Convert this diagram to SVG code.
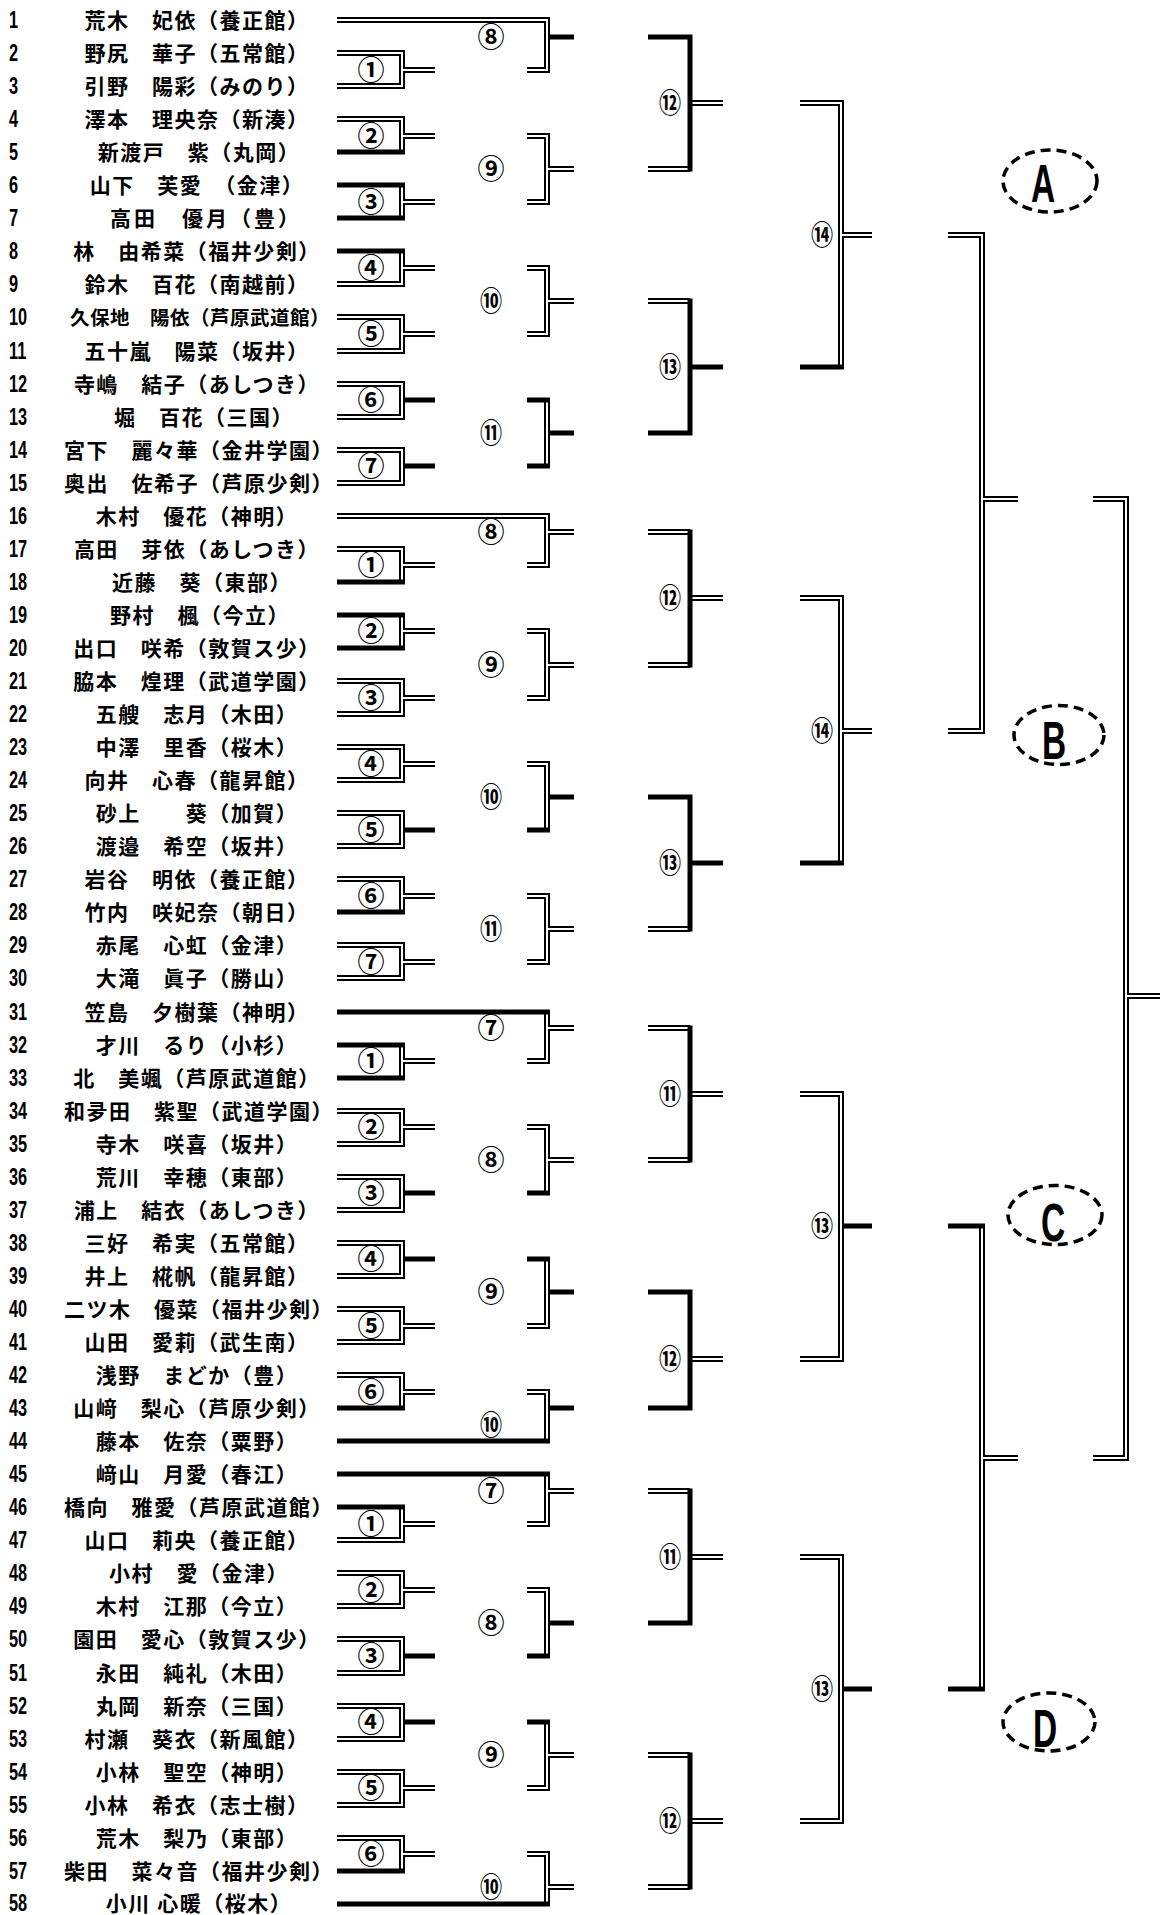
<svg xmlns="http://www.w3.org/2000/svg" width="1160" height="1915" viewBox="0 0 1160 1915">
<style>
.nm{font-family:"Noto Sans CJK JP","Noto Sans CJK SC",sans-serif;font-size:21px;font-weight:700;letter-spacing:1.5px;text-anchor:middle;fill:#000}
.no{font-family:"Liberation Sans",Arial,sans-serif;font-size:24px;font-weight:700;fill:#000;transform:scaleX(0.68)}
.lb{font-family:"Noto Sans CJK JP","Noto Sans CJK SC",sans-serif;font-size:27px;font-weight:700;text-anchor:middle;fill:#000}
.l2{transform-box:fill-box;transform-origin:center;transform:scaleX(0.82)}
.ov{fill:none;stroke:#000;stroke-width:3.5;stroke-dasharray:10 6}
.ol{font-family:"Liberation Sans",Arial,sans-serif;font-size:54px;font-weight:700;text-anchor:middle;fill:#000}
.tk{fill:none;stroke:#000;stroke-width:5}
</style>
<defs>
<path id="dbl" d="M337 53H402V86H337M402 70H435M337 119H402V152M402 136H435M402 185V218M402 202H435M402 251V284H337M402 268H435M337 317H402V351H337M402 334H435M337 384H402V417H337M337 450H402V483H337M337 20H547V70H527M527 136H547V202H527M547 169H574M527 268H547V334H527M547 301H574M547 400V466M648 169H690M690 103H723M648 301H690M800 103H841V367M841 235H872M948 235H982V731H948M982 499H1018M1093 499H1126V1458H1093M1126 996H1160
M337 549H402V582M402 565H435M402 615V648M402 631H435M337 681H402V714H337M402 698H435M337 747H402V780H337M402 764H435M337 813H402V846H337M337 879H402V912M402 896H435M337 945H402V978H337M402 962H435M337 516H547V565H527M547 532H574M527 631H547V698H527M547 665H574M527 764H547V830M527 896H547V962H527M547 929H574M648 532H690M648 665H690M690 598H723M648 929H690M800 598H841V863M841 731H872
M402 1045V1078M402 1061H435M337 1111H402V1144H337M402 1127H435M337 1177H402V1210H337M337 1243H402V1276H337M337 1309H402V1342H337M402 1326H435M337 1375H402V1408M402 1392H435M547 1012V1061H527M547 1028H574M527 1127H547V1193M547 1160H574M547 1259V1326H527M527 1392H547V1441M648 1028H690M648 1160H690M690 1094H723M690 1359H723M800 1094H841V1359H800M982 1226V1689M982 1458H1018
M402 1507V1540H337M402 1524H435M337 1573H402V1606H337M402 1590H435M337 1639H402V1673H337M337 1706H402V1739H337M337 1772H402V1805H337M402 1788H435M337 1838H402V1871M402 1854H435M547 1474V1524H527M547 1491H574M527 1590H547V1656M547 1722V1788H527M547 1755H574M527 1854H547V1904M547 1887H574M648 1491H690M690 1557H723M648 1755H690M648 1887H690M690 1821H723M800 1557H841V1821H800"/>
</defs>
<rect width="1160" height="1915" fill="#fff"/>
<g id="connectors">
<use href="#dbl" fill="none" stroke="#000" stroke-width="6"/>
<use href="#dbl" fill="none" stroke="#fff" stroke-width="2"/>
<path class="tk" d="M337 152H405M337 185H405M337 218H405M337 251H405M403 400H435M403 466H435M548 37H574M527 400H550M527 466H550M548 433H574M648 37H692.5M690 34.5V171.5M648 433H692.5M690 298.5V435.5M690 367H723M800 367H844
M337 582H405M337 615H405M337 648H405M403 830H435M337 912H405M527 830H550M548 797H574M690 529.5V667.5M648 797H692.5M690 794.5V931.5M690 863H723M800 863H844
M337 1045H405M337 1078H405M403 1193H435M403 1259H435M337 1408H405M337 1012H550M527 1193H550M527 1259H550M548 1292H574M337 1441H550M548 1408H574M690 1025.5V1162.5M648 1292H692.5M648 1408H692.5M690 1289.5V1410.5M842 1226H872M948 1226H985M948 1689H985
M337 1507H405M403 1656H435M403 1722H435M337 1871H405M337 1474H550M527 1656H550M548 1623H574M527 1722H550M337 1904H550M648 1623H692.5M690 1488.5V1625.5M690 1752.5V1889.5M842 1689H872"/>
</g>
<g id="players">
<g id="p1"><text class="no" x="13.2" y="28">1</text><text class="nm" x="197" y="28">荒木　妃依（養正館）</text></g>
<g id="p2"><text class="no" x="13.2" y="61">2</text><text class="nm" x="197" y="61">野尻　華子（五常館）</text></g>
<g id="p3"><text class="no" x="13.2" y="94">3</text><text class="nm" x="197" y="94">引野　陽彩（みのり）</text></g>
<g id="p4"><text class="no" x="13.2" y="127">4</text><text class="nm" x="197" y="127">澤本　理央奈（新湊）</text></g>
<g id="p5"><text class="no" x="13.2" y="160">5</text><text class="nm" x="199" y="160">新渡戸　紫（丸岡）</text></g>
<g id="p6"><text class="no" x="13.2" y="193">6</text><text class="nm" x="197" y="193">山下　芙愛　（金津）</text></g>
<g id="p7"><text class="no" x="13.2" y="226">7</text><text class="nm" x="206" y="226" style="letter-spacing:3px">高田　優月（豊）</text></g>
<g id="p8"><text class="no" x="13.2" y="259">8</text><text class="nm" x="197" y="259">林　由希菜（福井少剣）</text></g>
<g id="p9"><text class="no" x="13.2" y="292">9</text><text class="nm" x="197" y="292">鈴木　百花（南越前）</text></g>
<g id="p10"><text class="no" x="13.2" y="325">10</text><text class="nm" x="200" y="325" style="font-size:19.5px;letter-spacing:0.5px">久保地　陽依（芦原武道館）</text></g>
<g id="p11"><text class="no" x="13.2" y="359">11</text><text class="nm" x="197" y="359">五十嵐　陽菜（坂井）</text></g>
<g id="p12"><text class="no" x="13.2" y="392">12</text><text class="nm" x="197" y="392">寺嶋　結子（あしつき）</text></g>
<g id="p13"><text class="no" x="13.2" y="425">13</text><text class="nm" x="204" y="425">堀　百花（三国）</text></g>
<g id="p14"><text class="no" x="13.2" y="458">14</text><text class="nm" x="199" y="458">宮下　麗々華（金井学園）</text></g>
<g id="p15"><text class="no" x="13.2" y="491">15</text><text class="nm" x="199" y="491">奥出　佐希子（芦原少剣）</text></g>
<g id="p16"><text class="no" x="13.2" y="524">16</text><text class="nm" x="197" y="524">木村　優花（神明）</text></g>
<g id="p17"><text class="no" x="13.2" y="557">17</text><text class="nm" x="197" y="557">高田　芽依（あしつき）</text></g>
<g id="p18"><text class="no" x="13.2" y="590">18</text><text class="nm" x="202" y="590">近藤　葵（東部）</text></g>
<g id="p19"><text class="no" x="13.2" y="623">19</text><text class="nm" x="200" y="623">野村　楓（今立）</text></g>
<g id="p20"><text class="no" x="13.2" y="656">20</text><text class="nm" x="197" y="656">出口　咲希（敦賀ス少）</text></g>
<g id="p21"><text class="no" x="13.2" y="689">21</text><text class="nm" x="197" y="689">脇本　煌理（武道学園）</text></g>
<g id="p22"><text class="no" x="13.2" y="722">22</text><text class="nm" x="197" y="722">五艘　志月（木田）</text></g>
<g id="p23"><text class="no" x="13.2" y="755">23</text><text class="nm" x="197" y="755">中澤　里香（桜木）</text></g>
<g id="p24"><text class="no" x="13.2" y="788">24</text><text class="nm" x="197" y="788">向井　心春（龍昇館）</text></g>
<g id="p25"><text class="no" x="13.2" y="821">25</text><text class="nm" x="197" y="821">砂上　　葵（加賀）</text></g>
<g id="p26"><text class="no" x="13.2" y="854">26</text><text class="nm" x="197" y="854">渡邉　希空（坂井）</text></g>
<g id="p27"><text class="no" x="13.2" y="887">27</text><text class="nm" x="197" y="887">岩谷　明依（養正館）</text></g>
<g id="p28"><text class="no" x="13.2" y="920">28</text><text class="nm" x="197" y="920">竹内　咲妃奈（朝日）</text></g>
<g id="p29"><text class="no" x="13.2" y="953">29</text><text class="nm" x="197" y="953">赤尾　心虹（金津）</text></g>
<g id="p30"><text class="no" x="13.2" y="986">30</text><text class="nm" x="197" y="986">大滝　眞子（勝山）</text></g>
<g id="p31"><text class="no" x="13.2" y="1020">31</text><text class="nm" x="197" y="1020">笠島　夕樹葉（神明）</text></g>
<g id="p32"><text class="no" x="13.2" y="1053">32</text><text class="nm" x="197" y="1053">才川　るり（小杉）</text></g>
<g id="p33"><text class="no" x="13.2" y="1086">33</text><text class="nm" x="197" y="1086">北　美颯（芦原武道館）</text></g>
<g id="p34"><text class="no" x="13.2" y="1119">34</text><text class="nm" x="199" y="1119">和夛田　紫聖（武道学園）</text></g>
<g id="p35"><text class="no" x="13.2" y="1152">35</text><text class="nm" x="197" y="1152">寺木　咲喜（坂井）</text></g>
<g id="p36"><text class="no" x="13.2" y="1185">36</text><text class="nm" x="197" y="1185">荒川　幸穂（東部）</text></g>
<g id="p37"><text class="no" x="13.2" y="1218">37</text><text class="nm" x="197" y="1218">浦上　結衣（あしつき）</text></g>
<g id="p38"><text class="no" x="13.2" y="1251">38</text><text class="nm" x="197" y="1251">三好　希実（五常館）</text></g>
<g id="p39"><text class="no" x="13.2" y="1284">39</text><text class="nm" x="197" y="1284">井上　椛帆（龍昇館）</text></g>
<g id="p40"><text class="no" x="13.2" y="1317">40</text><text class="nm" x="199" y="1317">二ツ木　優菜（福井少剣）</text></g>
<g id="p41"><text class="no" x="13.2" y="1350">41</text><text class="nm" x="197" y="1350">山田　愛莉（武生南）</text></g>
<g id="p42"><text class="no" x="13.2" y="1383">42</text><text class="nm" x="197" y="1383">浅野　まどか（豊）</text></g>
<g id="p43"><text class="no" x="13.2" y="1416">43</text><text class="nm" x="197" y="1416">山﨑　梨心（芦原少剣）</text></g>
<g id="p44"><text class="no" x="13.2" y="1449">44</text><text class="nm" x="197" y="1449">藤本　佐奈（粟野）</text></g>
<g id="p45"><text class="no" x="13.2" y="1482">45</text><text class="nm" x="197" y="1482">﨑山　月愛（春江）</text></g>
<g id="p46"><text class="no" x="13.2" y="1515">46</text><text class="nm" x="199" y="1515">橋向　雅愛（芦原武道館）</text></g>
<g id="p47"><text class="no" x="13.2" y="1548">47</text><text class="nm" x="197" y="1548">山口　莉央（養正館）</text></g>
<g id="p48"><text class="no" x="13.2" y="1581">48</text><text class="nm" x="199" y="1581">小村　愛（金津）</text></g>
<g id="p49"><text class="no" x="13.2" y="1614">49</text><text class="nm" x="197" y="1614">木村　江那（今立）</text></g>
<g id="p50"><text class="no" x="13.2" y="1647">50</text><text class="nm" x="197" y="1647">園田　愛心（敦賀ス少）</text></g>
<g id="p51"><text class="no" x="13.2" y="1681">51</text><text class="nm" x="197" y="1681">永田　純礼（木田）</text></g>
<g id="p52"><text class="no" x="13.2" y="1714">52</text><text class="nm" x="197" y="1714">丸岡　新奈（三国）</text></g>
<g id="p53"><text class="no" x="13.2" y="1747">53</text><text class="nm" x="197" y="1747">村瀬　葵衣（新風館）</text></g>
<g id="p54"><text class="no" x="13.2" y="1780">54</text><text class="nm" x="197" y="1780">小林　聖空（神明）</text></g>
<g id="p55"><text class="no" x="13.2" y="1813">55</text><text class="nm" x="197" y="1813">小林　希衣（志士樹）</text></g>
<g id="p56"><text class="no" x="13.2" y="1846">56</text><text class="nm" x="197" y="1846">荒木　梨乃（東部）</text></g>
<g id="p57"><text class="no" x="13.2" y="1879">57</text><text class="nm" x="199" y="1879">柴田　菜々音（福井少剣）</text></g>
<g id="p58"><text class="no" x="13.2" y="1911">58</text><text class="nm" x="199" y="1911">小川 心暖（桜木）</text></g>
</g>
<g id="matches">
<g id="mA"><text class="lb" x="371" y="80">①</text><text class="lb" x="371" y="146">②</text><text class="lb" x="371" y="212">③</text><text class="lb" x="371" y="278">④</text><text class="lb" x="371" y="344">⑤</text><text class="lb" x="371" y="410">⑥</text><text class="lb" x="371" y="476">⑦</text><text class="lb" x="491" y="47">⑧</text><text class="lb" x="491" y="179">⑨</text><text class="lb l2" x="491" y="311">⑩</text><text class="lb l2" x="491" y="443">⑪</text><text class="lb l2" x="670" y="113">⑫</text><text class="lb l2" x="670" y="377">⑬</text><text class="lb l2" x="822" y="245">⑭</text></g>
<g id="mB"><text class="lb" x="371" y="575">①</text><text class="lb" x="371" y="641">②</text><text class="lb" x="371" y="708">③</text><text class="lb" x="371" y="774">④</text><text class="lb" x="371" y="840">⑤</text><text class="lb" x="371" y="906">⑥</text><text class="lb" x="371" y="972">⑦</text><text class="lb" x="491" y="542">⑧</text><text class="lb" x="491" y="675">⑨</text><text class="lb l2" x="491" y="807">⑩</text><text class="lb l2" x="491" y="939">⑪</text><text class="lb l2" x="670" y="608">⑫</text><text class="lb l2" x="670" y="873">⑬</text><text class="lb l2" x="822" y="741">⑭</text></g>
<g id="mC"><text class="lb" x="371" y="1071">①</text><text class="lb" x="371" y="1137">②</text><text class="lb" x="371" y="1203">③</text><text class="lb" x="371" y="1269">④</text><text class="lb" x="371" y="1336">⑤</text><text class="lb" x="371" y="1402">⑥</text><text class="lb" x="491" y="1038">⑦</text><text class="lb" x="491" y="1170">⑧</text><text class="lb" x="491" y="1302">⑨</text><text class="lb l2" x="491" y="1435">⑩</text><text class="lb l2" x="670" y="1104">⑪</text><text class="lb l2" x="670" y="1369">⑫</text><text class="lb l2" x="822" y="1236">⑬</text></g>
<g id="mD"><text class="lb" x="371" y="1534">①</text><text class="lb" x="371" y="1600">②</text><text class="lb" x="371" y="1666">③</text><text class="lb" x="371" y="1732">④</text><text class="lb" x="371" y="1798">⑤</text><text class="lb" x="371" y="1864">⑥</text><text class="lb" x="491" y="1501">⑦</text><text class="lb" x="491" y="1633">⑧</text><text class="lb" x="491" y="1765">⑨</text><text class="lb l2" x="491" y="1897">⑩</text><text class="lb l2" x="670" y="1567">⑪</text><text class="lb l2" x="670" y="1831">⑫</text><text class="lb l2" x="822" y="1699">⑬</text></g>
</g>
<g id="blockA"><ellipse class="ov" cx="1050" cy="181" rx="47" ry="31"/><text class="ol" transform="translate(1043 202) scale(0.62 1)">A</text></g>
<g id="blockB"><ellipse class="ov" cx="1059" cy="735" rx="45" ry="29.5"/><text class="ol" transform="translate(1054 759) scale(0.62 1)">B</text></g>
<g id="blockC"><ellipse class="ov" cx="1055" cy="1215" rx="47" ry="29.5"/><text class="ol" transform="translate(1053 1241) scale(0.62 1)">C</text></g>
<g id="blockD"><ellipse class="ov" cx="1049" cy="1722" rx="46" ry="29"/><text class="ol" transform="translate(1045 1747) scale(0.62 1)">D</text></g>
</svg>
